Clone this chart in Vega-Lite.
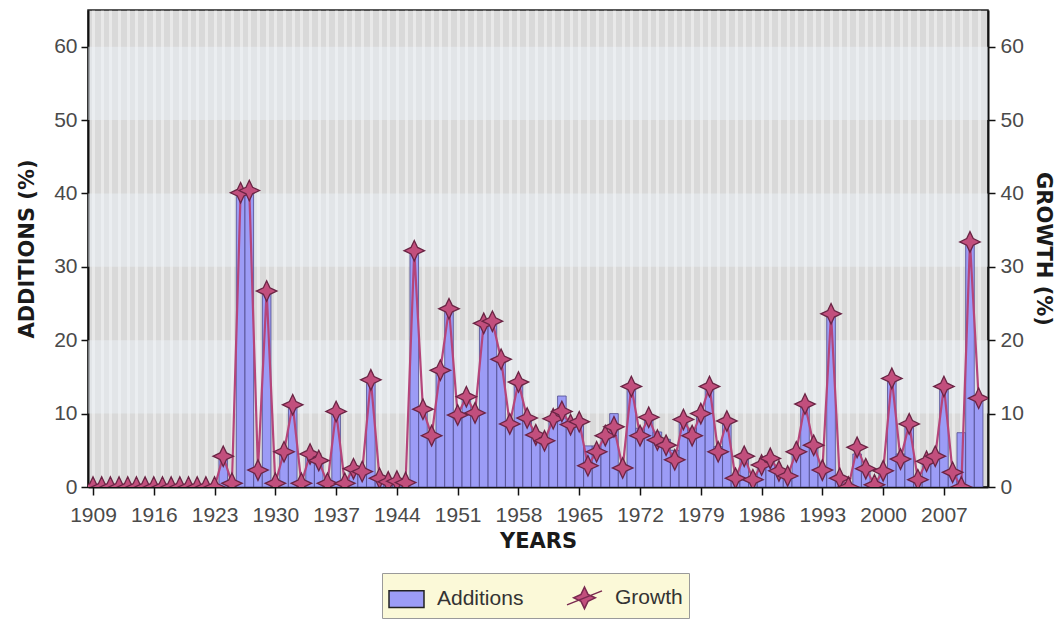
{
  "$schema": "https://vega.github.io/schema/vega-lite/v6.json",
  "width": 900,
  "height": 477,
  "autosize": {"type": "none"},
  "padding": {"left": 88, "top": 10, "right": 70, "bottom": 135},
  "background": "#ffffff",
  "config": {
    "view": {"fill": "#d9d9d9", "stroke": "#222222", "strokeWidth": 1.5},
    "font": "Liberation Sans",
    "axis": {
      "labelFont": "Liberation Sans",
      "titleFont": "DejaVu Sans",
      "labelColor": "#4a4a4a",
      "labelFontSize": 21,
      "titleFontSize": 21,
      "titleFontWeight": "bold",
      "titleColor": "#1a1a1a",
      "domainColor": "#111111",
      "domainWidth": 2,
      "tickColor": "#111111",
      "tickWidth": 1.5,
      "tickSize": 7,
      "grid": false
    }
  },
  "datasets": {
    "bands": [
      {"lo": 10, "hi": 20},
      {"lo": 30, "hi": 40},
      {"lo": 50, "hi": 60}
    ],
    "series": [
      {"year": 1909, "growth": 0, "additions": 0},
      {"year": 1910, "growth": 0, "additions": 0},
      {"year": 1911, "growth": 0, "additions": 0},
      {"year": 1912, "growth": 0, "additions": 0},
      {"year": 1913, "growth": 0, "additions": 0},
      {"year": 1914, "growth": 0, "additions": 0},
      {"year": 1915, "growth": 0, "additions": 0},
      {"year": 1916, "growth": 0, "additions": 0},
      {"year": 1917, "growth": 0, "additions": 0},
      {"year": 1918, "growth": 0, "additions": 0},
      {"year": 1919, "growth": 0, "additions": 0},
      {"year": 1920, "growth": 0, "additions": 0},
      {"year": 1921, "growth": 0, "additions": 0},
      {"year": 1922, "growth": 0, "additions": 0},
      {"year": 1923, "growth": 0, "additions": 0},
      {"year": 1924, "growth": 4.2, "additions": 4.2},
      {"year": 1925, "growth": 0.5, "additions": 0.5},
      {"year": 1926, "growth": 40.1, "additions": 40.1},
      {"year": 1927, "growth": 40.4, "additions": 40.4},
      {"year": 1928, "growth": 2.3, "additions": 2.3},
      {"year": 1929, "growth": 26.7, "additions": 26.7},
      {"year": 1930, "growth": 0.5, "additions": 0.5},
      {"year": 1931, "growth": 4.8, "additions": 4.8},
      {"year": 1932, "growth": 11.2, "additions": 11.2},
      {"year": 1933, "growth": 0.5, "additions": 0.5},
      {"year": 1934, "growth": 4.5, "additions": 4.5},
      {"year": 1935, "growth": 3.6, "additions": 3.6},
      {"year": 1936, "growth": 0.5, "additions": 0.5},
      {"year": 1937, "growth": 10.3, "additions": 10.3},
      {"year": 1938, "growth": 0.5, "additions": 0.5},
      {"year": 1939, "growth": 2.5, "additions": 2.5},
      {"year": 1940, "growth": 2.1, "additions": 2.1},
      {"year": 1941, "growth": 14.6, "additions": 14.6},
      {"year": 1942, "growth": 1.2, "additions": 1.2},
      {"year": 1943, "growth": 0.7, "additions": 0.7},
      {"year": 1944, "growth": 0.8, "additions": 0.8},
      {"year": 1945, "growth": 0.6, "additions": 0.6},
      {"year": 1946, "growth": 32.2, "additions": 32.2},
      {"year": 1947, "growth": 10.6, "additions": 10.6},
      {"year": 1948, "growth": 7.0, "additions": 7.0},
      {"year": 1949, "growth": 15.9, "additions": 15.9},
      {"year": 1950, "growth": 24.3, "additions": 24.3},
      {"year": 1951, "growth": 9.8, "additions": 9.8},
      {"year": 1952, "growth": 12.3, "additions": 12.3},
      {"year": 1953, "growth": 10.1, "additions": 10.1},
      {"year": 1954, "growth": 22.3, "additions": 22.3},
      {"year": 1955, "growth": 22.6, "additions": 22.6},
      {"year": 1956, "growth": 17.4, "additions": 17.4},
      {"year": 1957, "growth": 8.6, "additions": 8.6},
      {"year": 1958, "growth": 14.3, "additions": 14.3},
      {"year": 1959, "growth": 9.4, "additions": 9.4},
      {"year": 1960, "growth": 7.1, "additions": 7.1},
      {"year": 1961, "growth": 6.3, "additions": 6.3},
      {"year": 1962, "growth": 9.3, "additions": 9.3},
      {"year": 1963, "growth": 10.3, "additions": 12.4},
      {"year": 1964, "growth": 8.5, "additions": 9.0},
      {"year": 1965, "growth": 8.9, "additions": 8.9},
      {"year": 1966, "growth": 2.9, "additions": 5.6},
      {"year": 1967, "growth": 4.8, "additions": 5.6},
      {"year": 1968, "growth": 7.0, "additions": 7.5},
      {"year": 1969, "growth": 8.2, "additions": 10.0},
      {"year": 1970, "growth": 2.6, "additions": 2.6},
      {"year": 1971, "growth": 13.7, "additions": 13.7},
      {"year": 1972, "growth": 7.0, "additions": 8.0},
      {"year": 1973, "growth": 9.5, "additions": 9.5},
      {"year": 1974, "growth": 6.4, "additions": 7.5},
      {"year": 1975, "growth": 5.7, "additions": 6.5},
      {"year": 1976, "growth": 3.7, "additions": 5.0},
      {"year": 1977, "growth": 9.2, "additions": 9.2},
      {"year": 1978, "growth": 7.0, "additions": 8.0},
      {"year": 1979, "growth": 10.0, "additions": 10.0},
      {"year": 1980, "growth": 13.7, "additions": 13.7},
      {"year": 1981, "growth": 4.8, "additions": 5.5},
      {"year": 1982, "growth": 9.0, "additions": 9.0},
      {"year": 1983, "growth": 1.2, "additions": 1.2},
      {"year": 1984, "growth": 4.2, "additions": 4.2},
      {"year": 1985, "growth": 1.0, "additions": 1.0},
      {"year": 1986, "growth": 3.0, "additions": 3.0},
      {"year": 1987, "growth": 3.9, "additions": 3.9},
      {"year": 1988, "growth": 2.2, "additions": 2.2},
      {"year": 1989, "growth": 1.5, "additions": 1.5},
      {"year": 1990, "growth": 4.8, "additions": 4.8},
      {"year": 1991, "growth": 11.3, "additions": 11.3},
      {"year": 1992, "growth": 5.7, "additions": 5.7},
      {"year": 1993, "growth": 2.3, "additions": 2.3},
      {"year": 1994, "growth": 23.6, "additions": 23.6},
      {"year": 1995, "growth": 1.2, "additions": 1.2},
      {"year": 1996, "growth": 0, "additions": 0},
      {"year": 1997, "growth": 5.4, "additions": 4.5},
      {"year": 1998, "growth": 2.5, "additions": 2.5},
      {"year": 1999, "growth": 0.3, "additions": 0.3},
      {"year": 2000, "growth": 2.2, "additions": 2.2},
      {"year": 2001, "growth": 14.8, "additions": 14.8},
      {"year": 2002, "growth": 3.8, "additions": 4.5},
      {"year": 2003, "growth": 8.6, "additions": 8.6},
      {"year": 2004, "growth": 1.0, "additions": 1.0},
      {"year": 2005, "growth": 3.5, "additions": 3.5},
      {"year": 2006, "growth": 4.2, "additions": 4.6},
      {"year": 2007, "growth": 13.7, "additions": 13.7},
      {"year": 2008, "growth": 2.0, "additions": 2.0},
      {"year": 2009, "growth": 0, "additions": 7.4},
      {"year": 2010, "growth": 33.4, "additions": 33.4},
      {"year": 2011, "growth": 12.1, "additions": 11.8}
    ]
  },
  "layer": [
    {
      "data": {"name": "bands"},
      "mark": {"type": "rect", "fill": "#eef4fa", "opacity": 0.45},
      "encoding": {
        "y": {"field": "lo", "type": "quantitative", "scale": {"domain": [0, 65], "nice": false}, "axis": null},
        "y2": {"field": "hi"}
      }
    },
    {
      "data": {"name": "series"},
      "mark": {"type": "bar", "width": 8.6, "stroke": "#4f4b8e", "strokeWidth": 0.8, "clip": true},
      "encoding": {
        "x": {
          "field": "year",
          "type": "quantitative",
          "scale": {"domain": [1909, 2011.5], "nice": false, "zero": false},
          "axis": {
            "orient": "bottom",
            "values": [1909, 1916, 1923, 1930, 1937, 1944, 1951, 1958, 1965, 1972, 1979, 1986, 1993, 2000, 2007],
            "format": "d",
            "title": "YEARS",
            "tickSize": 8,
            "labelPadding": 9,
            "titlePadding": 5
          }
        },
        "y": {
          "field": "additions",
          "type": "quantitative",
          "scale": {"domain": [0, 65], "nice": false},
          "axis": {"orient": "left", "values": [0, 10, 20, 30, 40, 50, 60], "title": "ADDITIONS (%)", "titlePadding": 16, "labelPadding": 4}
        },
        "color": {
          "datum": "Additions",
          "type": "nominal",
          "scale": {"domain": ["Additions", "Growth"], "range": ["#9c9cf6", "#c24f7d"]},
          "legend": {
            "orient": "none",
            "legendX": 294,
            "legendY": 563,
            "direction": "horizontal",
            "title": null,
            "fillColor": "#fbf9d8",
            "strokeColor": "#9a9a9a",
            "padding": 6,
            "columnPadding": 40,
            "labelFontSize": 21,
            "labelColor": "#333333",
            "labelFont": "Liberation Sans",
            "labelOffset": 12,
            "symbolSize": 1225,
            "symbolStrokeColor": "#222222",
            "symbolStrokeWidth": 1.5,
            "encode": {
              "symbols": {
                "update": {
                  "shape": {"signal": "datum.value === 'Growth' ? 'M-1,0.4L1,-0.4M0,-0.62L0.2,-0.2L0.62,0L0.2,0.2L0,0.62L-0.2,0.2L-0.62,0L-0.2,-0.2Z' : 'M-1,-0.48H1V0.48H-1Z'"},
                  "stroke": {"signal": "datum.value === 'Growth' ? '#7a2a50' : '#222222'"}
                }
              }
            }
          }
        }
      }
    },
    {
      "data": {"name": "series"},
      "encoding": {
        "x": {
          "field": "year",
          "type": "quantitative",
          "axis": {
            "orient": "top",
            "values": [1909,1910,1911,1912,1913,1914,1915,1916,1917,1918,1919,1920,1921,1922,1923,1924,1925,1926,1927,1928,1929,1930,1931,1932,1933,1934,1935,1936,1937,1938,1939,1940,1941,1942,1943,1944,1945,1946,1947,1948,1949,1950,1951,1952,1953,1954,1955,1956,1957,1958,1959,1960,1961,1962,1963,1964,1965,1966,1967,1968,1969,1970,1971,1972,1973,1974,1975,1976,1977,1978,1979,1980,1981,1982,1983,1984,1985,1986,1987,1988,1989,1990,1991,1992,1993,1994,1995,1996,1997,1998,1999,2000,2001,2002,2003,2004,2005,2006,2007,2008,2009,2010,2011],
            "grid": true,
            "gridColor": "#ffffff",
            "gridOpacity": 0.42,
            "gridWidth": 3,
            "labels": false,
            "ticks": false,
            "domain": false,
            "title": null
          }
        },
        "y": {
          "field": "growth",
          "type": "quantitative",
          "scale": {"domain": [0, 65], "nice": false},
          "axis": {"orient": "right", "values": [0, 10, 20, 30, 40, 50, 60], "title": "GROWTH (%)", "titlePadding": 9, "labelPadding": 5}
        }
      },
      "layer": [
        {
          "mark": {"type": "line", "color": "#b5457a", "strokeWidth": 2.2, "clip": true}
        },
        {
          "mark": {
            "type": "point",
            "shape": "M0,-1L0.32,-0.32L1,0L0.32,0.32L0,1L-0.32,0.32L-1,0L-0.32,-0.32Z",
            "size": 420,
            "filled": true,
            "opacity": 1,
            "fillOpacity": 1,
            "stroke": "#6b2545",
            "strokeWidth": 1.3,
            "clip": true
          },
          "encoding": {
            "color": {"datum": "Growth", "type": "nominal"}
          }
        }
      ]
    }
  ],
  "resolve": {"scale": {"y": "independent"}}
}
